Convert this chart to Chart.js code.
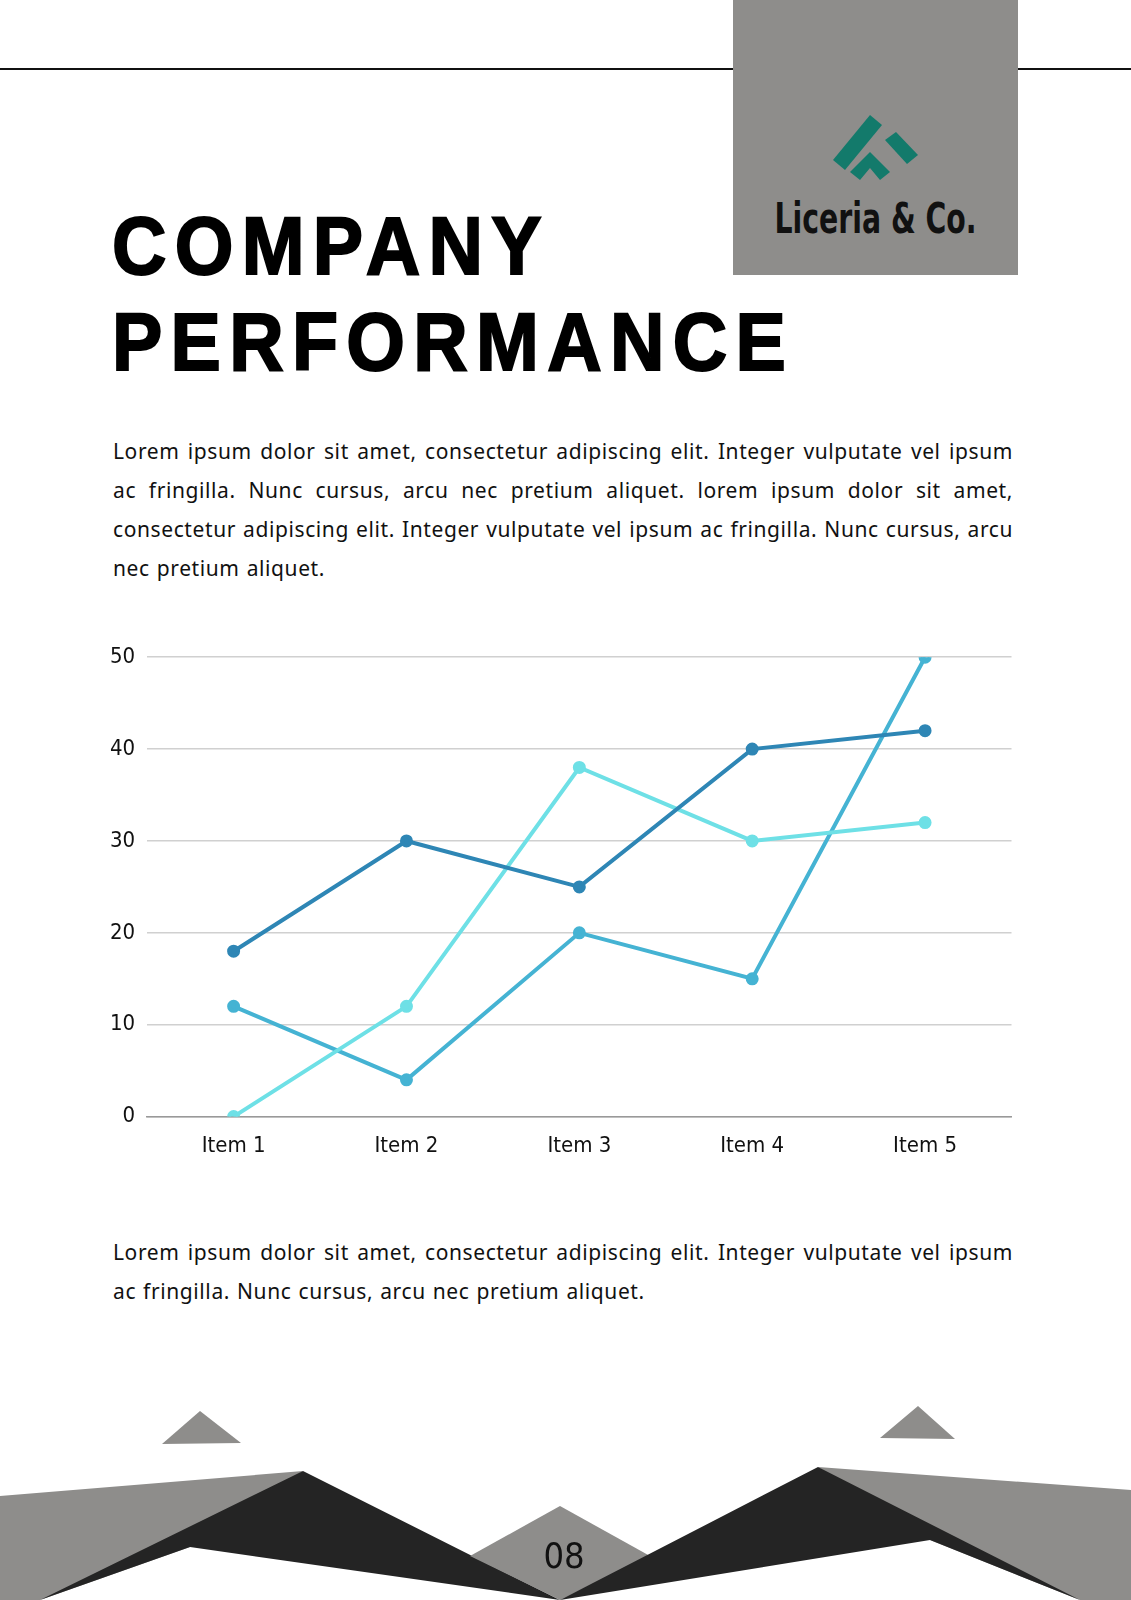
<!DOCTYPE html>
<html><head><meta charset="utf-8">
<script src="https://cdn.jsdelivr.net/npm/chart.js@4"></script>
<style>
body{margin:0;width:1131px;height:1600px;background:#fff;position:relative;overflow:hidden;font-family:"Noto Sans",sans-serif}
.line{position:absolute;left:0;top:68px;width:1131px;height:2px;background:#111}
.box{position:absolute;left:733px;top:0;width:285px;height:275px;background:#8e8d8b}
.brand{position:absolute;left:733px;top:194px;width:285px;text-align:center;font-family:"DejaVu Sans Condensed","Liberation Sans Narrow",sans-serif;font-weight:bold;font-size:42px;transform:scaleX(.75);color:#111}
h1{position:absolute;left:112px;top:198px;margin:0;font-family:"Liberation Sans",sans-serif;font-weight:900;font-size:82px;line-height:96px;letter-spacing:9px;color:#000;transform:scaleX(.92);transform-origin:left;-webkit-text-stroke:2px #000}
p{position:absolute;left:113px;width:900px;margin:0;font-size:21px;letter-spacing:0.6px;word-spacing:1px;line-height:39px;color:#111;text-align:justify}
#wrap{position:absolute;left:98px;top:632px;width:922px;height:535px}
</style></head><body>
<div class="line"></div>
<div class="box"></div>
<svg style="position:absolute;left:830px;top:110px" width="100" height="80" viewBox="0 0 100 80">
<polygon points="3,50 40,5 52,15 15,60" fill="#137a6b"/>
<polygon points="20,62 40,42 60,62 50,70 40,58 30,70" fill="#137a6b"/>
<polygon points="55,30 66,22 88,45 77,54" fill="#137a6b"/>
</svg>
<div class="brand">Liceria &amp; Co.</div>
<h1>COMPANY<br>PERFORMANCE</h1>
<p style="top:432px">Lorem ipsum dolor sit amet, consectetur adipiscing elit. Integer vulputate vel ipsum ac fringilla. Nunc cursus, arcu nec pretium aliquet. lorem ipsum dolor sit amet, consectetur adipiscing elit. Integer vulputate vel ipsum ac fringilla. Nunc cursus, arcu nec pretium aliquet.</p>
<div id="wrap"><canvas id="c"></canvas></div>
<p style="top:1233px">Lorem ipsum dolor sit amet, consectetur adipiscing elit. Integer vulputate vel ipsum ac fringilla. Nunc cursus, arcu nec pretium aliquet.</p>
<svg style="position:absolute;left:0;top:0" width="1131" height="1600">
<polygon points="162,1444 200,1411 241,1443" fill="#8e8d8b"/>
<polygon points="880,1438 918,1406 955,1439" fill="#8e8d8b"/>
<polygon points="0,1496 303,1471 190,1547 40,1600 0,1600" fill="#8e8d8b"/>
<polygon points="303,1471 560,1600 190,1547 40,1600" fill="#242424"/>
<polygon points="560,1506 470,1556 560,1600 650,1556" fill="#8e8d8b"/>
<polygon points="818,1467 1131,1490 1131,1600 1080,1600 930,1540" fill="#8e8d8b"/>
<polygon points="818,1467 1080,1600 930,1540 560,1600" fill="#242424"/>
<text x="564" y="1568" text-anchor="middle" font-family="DejaVu Sans Condensed" font-size="36" fill="#111">08</text>
</svg>
<script>
const categories = ["Item 1", "Item 2", "Item 3", "Item 4", "Item 5"];
const seriesDark = [18, 30, 25, 40, 42];
const seriesLight = [0, 12, 38, 30, 32];
const seriesMid = [12, 4, 20, 15, 50];

const ds = (data, color) => ({
  data, borderColor: color, backgroundColor: color,
  borderWidth: 4, pointRadius: 4.5, pointHoverRadius: 4.5, tension: 0
});

new Chart(document.getElementById("c"), {
  type: "line",
  data: {
    labels: categories,
    datasets: [ds(seriesDark, "#2e86b5"), ds(seriesLight, "#6ee0e6"), ds(seriesMid, "#45b3d3")]
  },
  options: {
    maintainAspectRatio: false,
    animation: false,
    layout: { padding: { top: 0, right: 0 } },
    plugins: { legend: { display: false }, tooltip: { enabled: false } },
    scales: {
      x: {
        offset: true,
        grid: { display: false },
        border: { color: "#999", width: 1.5 },
        ticks: { color: "#111", font: { family: "DejaVu Sans Condensed", size: 22 }, padding: 8 }
      },
      y: {
        min: 0, max: 50,
        ticks: { stepSize: 10, color: "#111", font: { family: "DejaVu Sans Condensed", size: 22 }, padding: 12 },
        grid: { color: "#d0d0d0", lineWidth: 1.5, drawTicks: false },
        border: { display: false }
      }
    }
  }
});
</script>
</body></html>
